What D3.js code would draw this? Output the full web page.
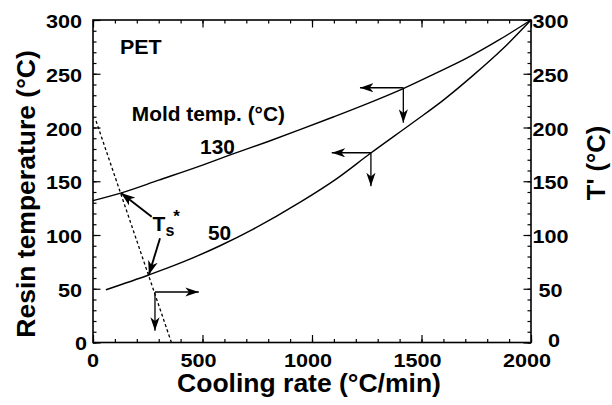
<!DOCTYPE html>
<html>
<head>
<meta charset="utf-8">
<script src="https://cdn.jsdelivr.net/npm/d3@7"></script>
<style>
  html, body { margin: 0; padding: 0; background: #fff; }
  svg { display: block; }
  text { font-family: "Liberation Sans", Arial, Helvetica, sans-serif; font-weight: bold; fill: #000; }
</style>
</head>
<body>
<svg id="chart" width="612" height="405"></svg>
<script>
// Resin temperature vs. cooling rate for PET at two mold temperatures
const coolingRate130 = [0, 126, 300, 500, 620, 800, 945, 1100, 1250, 1414, 1550, 1702, 1850, 2000];
const resinTemp130   = [132, 139, 151, 165, 174, 187, 198, 210, 222, 236, 249, 264, 281, 300];

const coolingRate50  = [59, 257, 400, 580, 732, 950, 1110, 1267, 1474, 1600, 1733, 1870, 2000];
const resinTemp50    = [49, 63, 74, 90, 105.5, 131, 152, 176, 206.5, 225.5, 248, 273, 300];

// Ts* locus (dashed)
const tsLineRate = [14, 358];
const tsLineTemp = [206, 0];

// axis ticks
const xMajor = [0, 500, 1000, 1500, 2000];
const xTickLabels = ["0", "500", "1000", "1500", "2000"];
const yMajor = [0, 50, 100, 150, 200, 250, 300];
const yTickLabels = ["0", "50", "100", "150", "200", "250", "300"];
const xMinor = d3.range(0, 2001, 100);
const yMinor = d3.range(0, 301, 10);

// reading guides: [fromRate, fromTemp, toRate, toTemp]
const guideArrows = [
  [283, 47, 483, 47],
  [283, 47, 283, 11],
  [1417, 237, 1219, 237],
  [1417, 237, 1417, 204.5],
  [1269, 176.5, 1090, 176.5],
  [1269, 176.5, 1269, 145.4]
];
// pointers from the Ts* label to the crossings
const tsArrows = [
  [268, 117, 128, 139],
  [306, 97, 255, 63]
];

const svg = d3.select("#chart");
const plotL = 93, plotR = 531, plotT = 20, plotB = 342.5;
const x = d3.scaleLinear().domain([0, 2000]).range([plotL, plotR]);
const y = d3.scaleLinear().domain([0, 300]).range([plotB, plotT]);

const defs = svg.append("defs");
function marker(id, len, half) {
  defs.append("marker")
    .attr("id", id)
    .attr("viewBox", `0 ${-half} ${len} ${2 * half}`)
    .attr("refX", len).attr("refY", 0)
    .attr("markerUnits", "userSpaceOnUse")
    .attr("markerWidth", len).attr("markerHeight", 2 * half)
    .attr("orient", "auto")
    .append("path")
    .attr("d", `M0,${-half} L${len},0 L0,${half} L${len * 0.28},0 Z`)
    .attr("fill", "#000");
}
marker("head", 13.5, 4.6);
marker("headBig", 14, 5);

// ticks (inward) on all four sides
function ticks(axis, tr, values, size) {
  const g = svg.append("g").attr("transform", tr)
    .call(axis.tickValues(values).tickSize(size).tickSizeOuter(0).tickFormat(""));
  g.select(".domain").remove();
  g.selectAll("line").attr("stroke", "#000").attr("stroke-width", 1.2);
}
ticks(d3.axisBottom(x), `translate(0,${plotB})`, xMinor, -3.5);
ticks(d3.axisBottom(x), `translate(0,${plotB})`, xMajor, -7.5);
ticks(d3.axisTop(x), `translate(0,${plotT})`, xMinor, -3.5);
ticks(d3.axisTop(x), `translate(0,${plotT})`, xMajor, -7.5);
ticks(d3.axisLeft(y), `translate(${plotL},0)`, yMinor, -3.5);
ticks(d3.axisLeft(y), `translate(${plotL},0)`, yMajor, -7.5);
ticks(d3.axisRight(y), `translate(${plotR},0)`, yMinor, -3.5);
ticks(d3.axisRight(y), `translate(${plotR},0)`, yMajor, -7.5);

svg.append("rect")
  .attr("x", plotL).attr("y", plotT)
  .attr("width", plotR - plotL).attr("height", plotB - plotT)
  .attr("fill", "none").attr("stroke", "#000").attr("stroke-width", 1.6);

function label(str, px, py, o) {
  return svg.append("text")
    .attr("transform", `translate(${px},${py}) rotate(${o.rotate || 0}) scale(${o.sx || 1},1)`)
    .attr("text-anchor", o.anchor || "start")
    .attr("font-size", o.size)
    .text(str);
}

// tick labels
xMajor.forEach((v, i) => {
  const px = v === 0 ? x(v) : x(v) - 4;
  label(xTickLabels[i], px, 367, { size: 18.5, sx: 1.17, anchor: "middle" });
});
yMajor.forEach((v, i) => {
  if (v === 0) {
    label(yTickLabels[i], 87, 350, { size: 18.5, sx: 1.17, anchor: "end" });
    label(yTickLabels[i], 554, 347, { size: 18.5, sx: 1.17, anchor: "middle" });
  } else {
    label(yTickLabels[i], 82, y(v) + 8, { size: 18.5, sx: 1.17, anchor: "end" });
    label(yTickLabels[i], 550.5, y(v) + 8, { size: 18.5, sx: 1.17, anchor: "middle" });
  }
});

// axis titles
label("Cooling rate (°C/min)", 309, 392, { size: 26.5, anchor: "middle" });
label("Resin temperature (°C)", 35, 194, { size: 26.5, anchor: "middle", rotate: -90 });
label("T' (°C)", 605, 163, { size: 25.5, anchor: "middle", rotate: -90 });

// curves
const line = d3.line().x(d => x(d[0])).y(d => y(d[1])).curve(d3.curveMonotoneX);
svg.append("path")
  .datum(d3.zip(coolingRate130, resinTemp130))
  .attr("d", line).attr("fill", "none").attr("stroke", "#000").attr("stroke-width", 1.4);
svg.append("path")
  .datum(d3.zip(coolingRate50, resinTemp50))
  .attr("d", line).attr("fill", "none").attr("stroke", "#000").attr("stroke-width", 1.4);

svg.append("path")
  .datum(d3.zip(tsLineRate, tsLineTemp))
  .attr("d", d3.line().x(d => x(d[0])).y(d => y(d[1])))
  .attr("fill", "none").attr("stroke", "#000").attr("stroke-width", 1.3)
  .attr("stroke-dasharray", "3,2.5");

// arrows
svg.selectAll("line.guide").data(guideArrows).join("line")
  .attr("class", "guide")
  .attr("x1", d => x(d[0])).attr("y1", d => y(d[1]))
  .attr("x2", d => x(d[2])).attr("y2", d => y(d[3]))
  .attr("stroke", "#000").attr("stroke-width", 1.3)
  .attr("marker-end", "url(#head)");
svg.selectAll("line.ts").data(tsArrows).join("line")
  .attr("class", "ts")
  .attr("x1", d => x(d[0])).attr("y1", d => y(d[1]))
  .attr("x2", d => x(d[2])).attr("y2", d => y(d[3]))
  .attr("stroke", "#000").attr("stroke-width", 1.9)
  .attr("marker-end", "url(#headBig)");

// in-plot labels
label("PET", x(123), y(268.3), { size: 19.5, sx: 1.1 });
label("Mold temp. (°C)", x(177), y(206), { size: 19.5, sx: 1.07 });
label("130", x(489), y(175), { size: 19.5, sx: 1.07 });
label("50", x(525), y(95.6), { size: 19.5, sx: 1.07 });

const ts = svg.append("text")
  .attr("x", x(272)).attr("y", y(103.4))
  .attr("font-size", 21);
ts.append("tspan").text("T");
ts.append("tspan").attr("font-size", 16).attr("dy", 5).text("s");
ts.append("tspan").attr("font-size", 17).attr("dx", -1).attr("dy", -14).text("*");
</script>
</body>
</html>
